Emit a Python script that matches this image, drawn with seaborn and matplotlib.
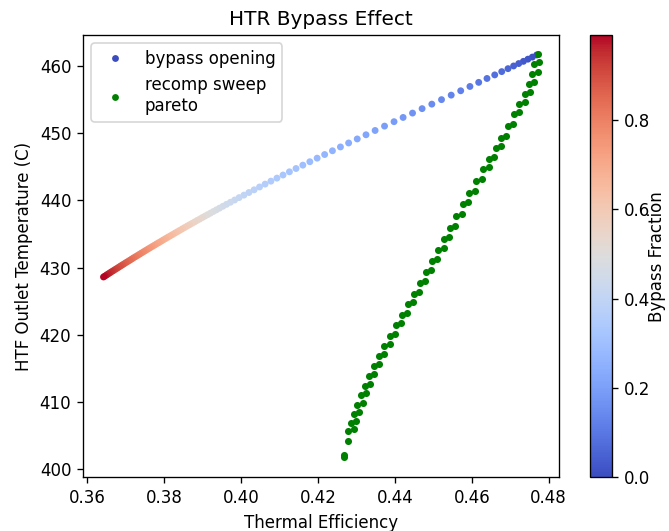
#!/usr/bin/env python3
"""
HTR bypass effect: efficiency vs HTF outlet temperature (seaborn)
"""

import matplotlib
matplotlib.use('Agg')
import matplotlib.pyplot as plt
import numpy as np
import pandas as pd
import seaborn as sns
from matplotlib.cm import ScalarMappable
from matplotlib.colors import Normalize
from matplotlib.lines import Line2D

# bypass opening sweep
bypass_frac = [
    0.00, 0.01, 0.02, 0.03, 0.04, 0.05, 0.06, 0.07, 0.08, 0.09,
    0.10, 0.11, 0.12, 0.13, 0.14, 0.15, 0.16, 0.17, 0.18, 0.19,
    0.20, 0.21, 0.22, 0.23, 0.24, 0.25, 0.26, 0.27, 0.28, 0.29,
    0.30, 0.31, 0.32, 0.33, 0.34, 0.35, 0.36, 0.37, 0.38, 0.39,
    0.40, 0.41, 0.42, 0.43, 0.44, 0.45, 0.46, 0.47, 0.48, 0.49,
    0.50, 0.51, 0.52, 0.53, 0.54, 0.55, 0.56, 0.57, 0.58, 0.59,
    0.60, 0.61, 0.62, 0.63, 0.64, 0.65, 0.66, 0.67, 0.68, 0.69,
    0.70, 0.71, 0.72, 0.73, 0.74, 0.75, 0.76, 0.77, 0.78, 0.79,
    0.80, 0.81, 0.82, 0.83, 0.84, 0.85, 0.86, 0.87, 0.88, 0.89,
    0.90, 0.91, 0.92, 0.93, 0.94, 0.95, 0.96, 0.97, 0.98, 0.99,
]
bypass_eff = [
    0.47688, 0.47574, 0.47459, 0.47342, 0.47220, 0.47087, 0.46941, 0.46778, 0.46596, 0.46395,
    0.46179, 0.45951, 0.45711, 0.45464, 0.45212, 0.44960, 0.44707, 0.44458, 0.44213, 0.43977,
    0.43730, 0.43485, 0.43248, 0.43020, 0.42796, 0.42583, 0.42375, 0.42172, 0.41977, 0.41787,
    0.41605, 0.41428, 0.41256, 0.41090, 0.40931, 0.40775, 0.40624, 0.40479, 0.40338, 0.40203,
    0.40073, 0.39948, 0.39831, 0.39722, 0.39620, 0.39527, 0.39438, 0.39355, 0.39277, 0.39202,
    0.39129, 0.39060, 0.38991, 0.38924, 0.38856, 0.38790, 0.38724, 0.38658, 0.38593, 0.38529,
    0.38465, 0.38402, 0.38339, 0.38277, 0.38216, 0.38155, 0.38094, 0.38035, 0.37975, 0.37917,
    0.37859, 0.37801, 0.37744, 0.37687, 0.37632, 0.37576, 0.37522, 0.37468, 0.37414, 0.37361,
    0.37309, 0.37257, 0.37205, 0.37155, 0.37105, 0.37055, 0.37006, 0.36958, 0.36910, 0.36862,
    0.36816, 0.36770, 0.36724, 0.36679, 0.36634, 0.36591, 0.36547, 0.36505, 0.36462, 0.36421,
]
bypass_temp = [
    461.64, 461.32, 461.01, 460.69, 460.36, 460.00, 459.60, 459.16, 458.67, 458.14,
    457.56, 456.95, 456.31, 455.66, 454.99, 454.32, 453.65, 452.99, 452.34, 451.71,
    451.05, 450.40, 449.76, 449.14, 448.54, 447.95, 447.38, 446.82, 446.28, 445.75,
    445.24, 444.74, 444.25, 443.77, 443.31, 442.86, 442.42, 441.99, 441.57, 441.17,
    440.78, 440.41, 440.05, 439.72, 439.41, 439.12, 438.84, 438.58, 438.34, 438.10,
    437.87, 437.66, 437.44, 437.22, 437.01, 436.79, 436.58, 436.37, 436.16, 435.95,
    435.74, 435.53, 435.32, 435.12, 434.91, 434.71, 434.51, 434.31, 434.11, 433.91,
    433.71, 433.52, 433.32, 433.13, 432.94, 432.75, 432.56, 432.37, 432.18, 432.00,
    431.81, 431.63, 431.45, 431.27, 431.09, 430.91, 430.74, 430.56, 430.39, 430.22,
    430.05, 429.88, 429.72, 429.55, 429.39, 429.23, 429.07, 428.91, 428.75, 428.60,
]

# recompression sweep pareto front (points come in near-duplicate pairs)
pareto_eff = [
    0.47730,
    0.47618, 0.47758, 0.47574, 0.47714, 0.47488, 0.47628, 0.47384, 0.47524,
    0.47236, 0.47376, 0.47100, 0.47240, 0.46937, 0.47077, 0.46762, 0.46902,
    0.46619, 0.46759, 0.46450, 0.46590, 0.46297, 0.46437, 0.46112, 0.46252,
    0.45935, 0.46075, 0.45758, 0.45898, 0.45594, 0.45734, 0.45431, 0.45571,
    0.45267, 0.45407, 0.45124, 0.45264, 0.44965, 0.45105, 0.44806, 0.44946,
    0.44645, 0.44785, 0.44487, 0.44627, 0.44331, 0.44471, 0.44172, 0.44312,
    0.44018, 0.44158, 0.43865, 0.44005, 0.43722, 0.43862, 0.43582, 0.43722,
    0.43449, 0.43589, 0.43327, 0.43467, 0.43212, 0.43352, 0.43111, 0.43251,
    0.43020, 0.43160, 0.42937, 0.43077, 0.42856, 0.42996, 0.42783, 0.42923,
    0.42767, 0.42684, 0.42684,
]
pareto_temp = [
    461.79,
    460.25, 460.55, 458.85, 459.15, 457.37, 457.67, 455.88, 456.18,
    454.39, 454.69, 452.81, 453.11, 451.07, 451.37, 449.33, 449.63,
    447.84, 448.14, 446.12, 446.42, 444.63, 444.93, 442.89, 443.19,
    441.15, 441.45, 439.42, 439.72, 437.68, 437.98, 435.94, 436.24,
    434.21, 434.51, 432.54, 432.84, 430.91, 431.21, 429.27, 429.57,
    427.63, 427.93, 426.07, 426.37, 424.51, 424.81, 422.95, 423.25,
    421.38, 421.68, 419.82, 420.12, 418.33, 418.63, 416.84, 417.14,
    415.36, 415.66, 413.87, 414.17, 412.38, 412.68, 410.97, 411.27,
    409.55, 409.85, 408.21, 408.51, 406.87, 407.17, 405.61, 405.91,
    404.20, 401.74, 402.04,
]


def main():
    bypass = pd.DataFrame({'eff': bypass_eff, 'temp': bypass_temp, 'frac': bypass_frac})
    pareto = pd.DataFrame({'eff': pareto_eff, 'temp': pareto_temp})

    dpi = 120
    fig = plt.figure(figsize=(669 / dpi, 531 / dpi), dpi=dpi)
    ax = fig.add_axes([0.1241, 0.1008, 0.7115, 0.8333])
    cax = fig.add_axes([0.8812, 0.1008, 0.0336, 0.8333])

    norm = Normalize(vmin=0, vmax=max(bypass_frac))
    sns.scatterplot(data=bypass, x='eff', y='temp', hue='frac',
                    palette='coolwarm', hue_norm=norm, s=17,
                    linewidth=0, legend=False, ax=ax)
    sns.scatterplot(data=pareto, x='eff', y='temp', color='green', s=18,
                    linewidth=0, legend=False, ax=ax)
    ax.set_xlim(0.35888, 0.48268)
    ax.set_ylim(398.76, 464.61)

    sm = ScalarMappable(norm=norm, cmap='coolwarm')
    cb = fig.colorbar(sm, cax=cax)
    cb.set_label('Bypass Fraction', labelpad=-1)

    handles = [
        Line2D([], [], ls='none', marker='o', ms=4.1, mew=0,
               color=plt.get_cmap('coolwarm')(0.0)),
        Line2D([], [], ls='none', marker='o', ms=4.1, mew=0, color='green'),
    ]
    ax.legend(handles, ['bypass opening', 'recomp sweep\npareto'], loc='upper left')

    ax.set_title('HTR Bypass Effect')
    ax.set_xlabel('Thermal Efficiency')
    ax.set_ylabel('HTF Outlet Temperature (C)')

    fig.savefig('out.png', dpi=dpi, facecolor='white')


if __name__ == "__main__":
    main()
